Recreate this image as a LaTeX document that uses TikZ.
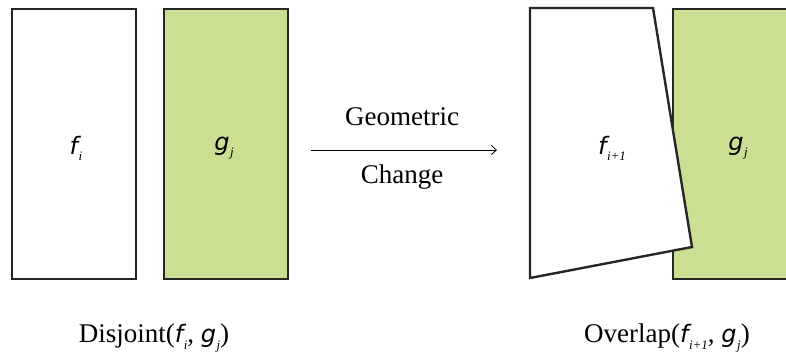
\documentclass[tikz,border=0pt]{standalone}
\usepackage{fontspec}
\usetikzlibrary{arrows.meta}
\setmainfont{Liberation Serif}
\newfontfamily\symfont{DejaVu Sans}
\definecolor{leaf}{RGB}{203,223,146}
% sans italic symbol with a small serif-italic subscript
\newcommand{\var}[2]{{\symfont\itshape\fontsize{24}{28}\selectfont #1}\kern0.5pt\raisebox{-0.5ex}{\fontsize{13}{13}\selectfont\itshape #2}}
\begin{document}
\begin{tikzpicture}[x=1pt,y=-1pt,
  box/.style={draw=black!85,line width=2.4pt,anchor=north west,inner sep=0pt},
  lbl/.style={font=\fontsize{27}{30}\selectfont},
  captext/.style={font=\fontsize{27}{30}\selectfont}]
\useasboundingbox (0,0) rectangle (786,358);
\clip (0,0) rectangle (786,358);
% left pair: disjoint
\node[box,fill=white,minimum width=124pt,minimum height=270pt] (fi) at (11,8) {};
\node[box,fill=leaf,minimum width=124pt,minimum height=270pt] (gj) at (163,8) {};
\node[lbl] (fil) at (76,148) {\var{f}{i}};
\node[lbl] (gjl) at (224,148) {\var{g}{j}};
% right pair: overlap after the change
\node[box,fill=leaf,minimum width=130pt,minimum height=270pt] (gj2) at (672,8) {};
\draw[draw=black!85,line width=2.4pt,fill=white,line join=miter]
  (530,8) coordinate (p1) -- (653,8) coordinate (p2) -- (692,247) coordinate (p3)
  -- (530,278) coordinate (p4) -- cycle;
\node[lbl] (fi1l) at (612,148) {\var{f}{i+1}};
\node[lbl] (gj2l) at (738,148) {\var{g}{j}};
% transition arrow
\coordinate (a0) at (311,150);
\coordinate (a1) at (497,150);
\draw[line width=0.8pt,-{Straight Barb[length=5pt,width=9pt]}] (a0) -- (a1);
\node[captext] (geo) at (402,117) {Geometric};
\node[captext] (chg) at (402,177) {Change};
% captions
\node[captext] (disj) at (154,338) {Disjoint(\var{f}{i}, \var{g}{j})};
\node[captext] (ovl) at (667,338) {Overlap(\var{f}{i+1}, \var{g}{j})};
\end{tikzpicture}
\end{document}
